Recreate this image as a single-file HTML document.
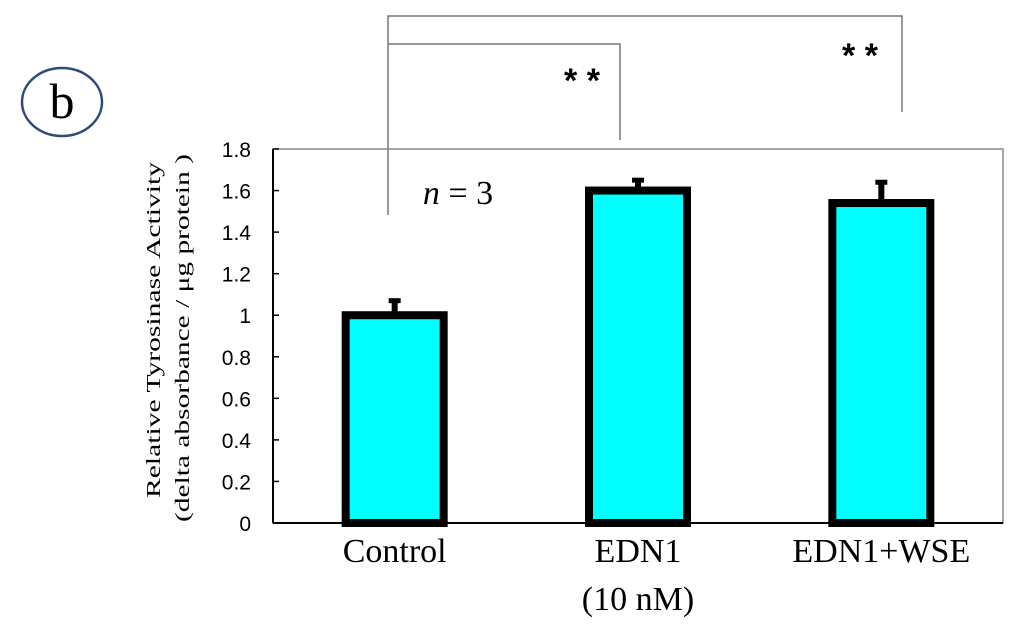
<!DOCTYPE html>
<html><head><meta charset="utf-8"><style>
body{margin:0;background:#fff;width:1024px;height:630px;overflow:hidden}
svg{display:block}
</style></head><body>
<svg id="chart" width="1024" height="630">
<g>
<ellipse cx="62" cy="102" rx="40" ry="34" fill="none" stroke="#2e4a7a" stroke-width="2.5"/>
<text x="62" y="118" font-family="Liberation Serif, serif" font-size="50" text-anchor="middle">b</text>
</g>
<g stroke="#777" stroke-width="1.5" fill="none">
<polyline points="388,215 388,16 902,16 902,112"/>
<polyline points="388,44 620,44 620,140"/>
</g>
<text x="582" y="92" font-family="Liberation Sans, sans-serif" font-size="34" font-weight="bold" text-anchor="middle">*  *</text>
<text x="860" y="67" font-family="Liberation Sans, sans-serif" font-size="34" font-weight="bold" text-anchor="middle">*  *</text>
<rect x="273" y="149" width="730" height="374" fill="none" stroke="#888" stroke-width="1.5"/>
<g id="axes"></g>
<g id="bars"></g>
<text x="458" y="204" font-family="Liberation Serif, serif" font-size="34" text-anchor="middle"><tspan font-style="italic">n</tspan> = 3</text>
<g font-family="Liberation Serif, serif" font-size="20" text-anchor="middle">
<text transform="translate(160,330) rotate(-90)" textLength="336" lengthAdjust="spacingAndGlyphs">Relative Tyrosinase Activity</text>
<text transform="translate(189,338) rotate(-90)" textLength="368" lengthAdjust="spacingAndGlyphs">(delta  absorbance /  μg protein )</text>
</g>
</svg>
<script>
const categories=["Control","EDN1","EDN1+WSE"];
const subLabels=["","(10 nM)",""];
const values=[1.0,1.6,1.54];
const errors=[0.07,0.05,0.1];
const yTicks=[0,0.2,0.4,0.6,0.8,1,1.2,1.4,1.6,1.8];
const X0=273,X1=1003,Y0=523,Y1=149,YMAX=1.8;
const y=v=>Y0-(v/YMAX)*(Y0-Y1);
const band=(X1-X0)/categories.length;
const xc=i=>X0+band*(i+0.5);
const NS="http://www.w3.org/2000/svg";
function mk(t,a,p){const e=document.createElementNS(NS,t);for(const k in a)e.setAttribute(k,a[k]);p.appendChild(e);return e;}
const ax=document.getElementById('axes'),bg=document.getElementById('bars');
const yl=mk('line',{x1:X0,y1:Y1,x2:X0,y2:Y0,stroke:'#000','stroke-width':2},ax);


const xl=mk('line',{x1:X0,y1:Y0,x2:X1,y2:Y0,stroke:'#000','stroke-width':2},ax);


yTicks.forEach(t=>{
 const tk=mk('line',{x1:X0,y1:y(t),x2:X0+6,y2:y(t),stroke:'#000','stroke-width':1.5},ax);
 
 
 const tx=mk('text',{x:X0-22,y:y(t)+8,'text-anchor':'end','font-family':'Liberation Sans, sans-serif','font-size':21},ax);
 tx.textContent=String(t);
 
 
});
categories.forEach((c,i)=>{
 const cx=xc(i),w=98;
 const eb=mk('line',{x1:cx,y1:y(values[i]),x2:cx,y2:y(values[i]+errors[i]),stroke:'#000','stroke-width':6},bg);
 
 
 const cap=mk('line',{x1:cx-6,y1:y(values[i]+errors[i]),x2:cx+6,y2:y(values[i]+errors[i]),stroke:'#000','stroke-width':5},bg);
 
 
 const r=mk('rect',{x:cx-w/2,y:y(values[i]),width:w,height:Y0-y(values[i]),fill:'#00ffff',stroke:'#000','stroke-width':8},bg);
 
 
 const t=mk('text',{x:cx,y:562,'text-anchor':'middle','font-family':'Liberation Serif, serif','font-size':34},bg);
 t.textContent=c;
 
 
 if(subLabels[i]){
  const s=mk('text',{x:cx,y:610,'text-anchor':'middle','font-family':'Liberation Serif, serif','font-size':34},bg);
  s.textContent=subLabels[i];
  
  
 }
});
</script>
</body></html>
